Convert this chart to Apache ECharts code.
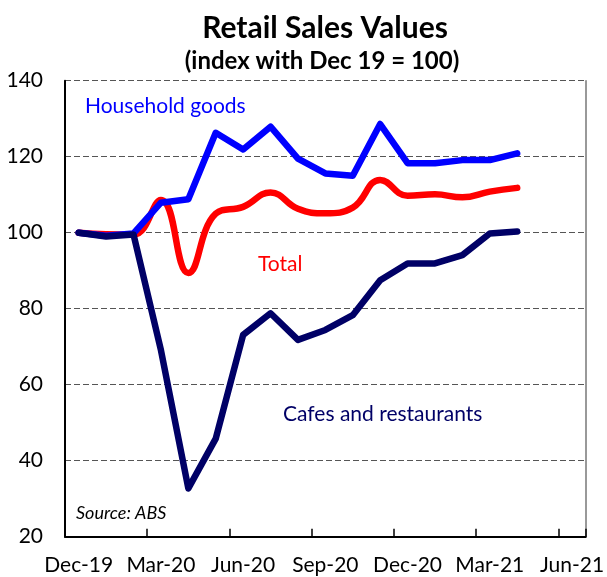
<!DOCTYPE html>
<html>
<head>
<meta charset="utf-8">
<script src="https://cdn.jsdelivr.net/npm/echarts@6/dist/echarts.min.js"></script>
<style>
html,body{margin:0;padding:0;background:#fff;}
#chart{width:607px;height:577px;}
</style>
</head>
<body>
<div id="chart"></div>
<script>
const months = ['Dec-19','Jan-20','Feb-20','Mar-20','Apr-20','May-20','Jun-20','Jul-20','Aug-20','Sep-20','Oct-20','Nov-20','Dec-20','Jan-21','Feb-21','Mar-21','Apr-21','May-21','Jun-21'];
const householdGoods = [100, 99.2, 99.8, 107.9, 108.8, 126.3, 121.9, 127.9, 119.5, 115.6, 115.0, 128.6, 118.3, 118.3, 119.1, 119.1, 120.9];
const total = [100, 99.6, 99.5, 108.6, 89.4, 105.0, 106.8, 110.6, 106.3, 105.1, 106.6, 113.9, 109.7, 110.1, 109.3, 110.8, 111.8];
const cafesRestaurants = [100, 99.0, 99.5, 69.1, 32.7, 45.8, 73.1, 78.8, 71.8, 74.4, 78.3, 87.5, 91.9, 91.9, 94.1, 99.8, 100.3];
const yTicks = [20, 40, 60, 80, 100, 120, 140];

const FONT = 'Lato';
const chart = echarts.init(document.getElementById('chart'), null, {renderer: 'canvas'});

function lineSeries(name, data, color, smooth, z) {
  return {
    name: name, type: 'line', data: data, symbol: 'none', smooth: smooth, z: z,
    lineStyle: {color: color, width: 6.5, cap: 'round', join: 'round'},
    emphasis: {disabled: true}
  };
}

chart.setOption({
  animation: false,
  backgroundColor: '#ffffff',
  textStyle: {fontFamily: FONT},
  grid: {left: 65, right: 18, top: 80.7, bottom: 40.3, containLabel: false},
  xAxis: {
    type: 'category', data: months, boundaryGap: true,
    axisLine: {lineStyle: {color: '#000', width: 2}},
    axisTick: {show: true, inside: true, length: 8, interval: 2, lineStyle: {color: '#000', width: 1.5}},
    axisLabel: {interval: 2, color: '#000', fontSize: 21, fontFamily: FONT, margin: 18},
    splitLine: {show: false}
  },
  yAxis: [{
    type: 'value', min: yTicks[0], max: yTicks[yTicks.length - 1], interval: 20,
    axisLine: {show: true, lineStyle: {color: '#000', width: 2}},
    axisTick: {show: false},
    axisLabel: {color: '#000', fontSize: 21, fontFamily: FONT, margin: 22},
    splitLine: {show: true, lineStyle: {color: '#555', width: 1, type: [6, 3]}}
  }, {
    type: 'value', position: 'right', min: yTicks[0], max: yTicks[yTicks.length - 1], interval: 20,
    axisLine: {show: true, lineStyle: {color: '#777', width: 1.5}},
    axisTick: {show: false}, axisLabel: {show: false}, splitLine: {show: false}
  }],
  series: [
    lineSeries('Total', total, '#ff0000', 0.45, 2),
    lineSeries('Household goods', householdGoods, '#0000ff', false, 3),
    lineSeries('Cafes and restaurants', cafesRestaurants, '#000066', false, 4)
  ],
  graphic: [
    {type: 'text', style: {text: 'Retail Sales Values', font: 'bold 30px ' + FONT, fill: '#000', textAlign: 'center', textVerticalAlign: 'middle'}, x: 325, y: 28},
    {type: 'text', style: {text: '(index with Dec 19 = 100)', font: 'bold 24px ' + FONT, fill: '#000', textAlign: 'center', textVerticalAlign: 'middle'}, x: 322, y: 61},
    {type: 'text', style: {text: 'Household goods', font: '21px ' + FONT, fill: '#0000ff', textVerticalAlign: 'middle'}, x: 85, y: 106},
    {type: 'text', style: {text: 'Total', font: '21px ' + FONT, fill: '#ff0000', textVerticalAlign: 'middle'}, x: 258, y: 264},
    {type: 'text', style: {text: 'Cafes and restaurants', font: '21px ' + FONT, fill: '#000066', textVerticalAlign: 'middle'}, x: 283, y: 414},
    {type: 'text', style: {text: 'Source: ABS', font: 'italic 18px ' + FONT, fill: '#000', textVerticalAlign: 'middle'}, x: 76, y: 513}
  ]
});
</script>
</body>
</html>
